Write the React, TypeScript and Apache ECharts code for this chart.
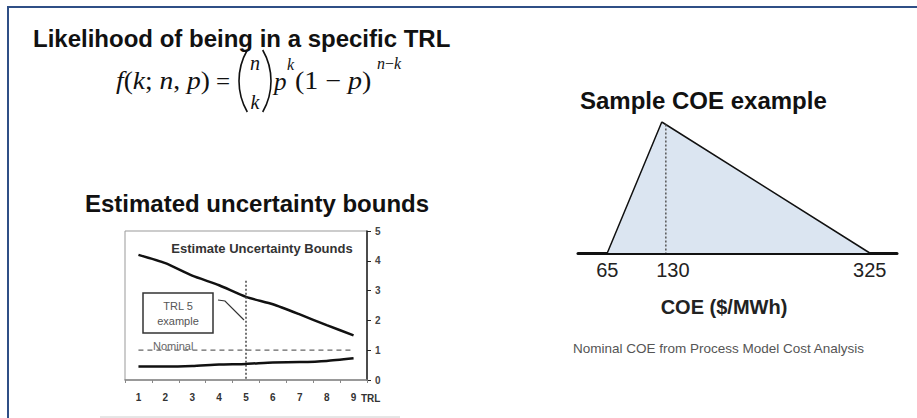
import React, { useEffect, useRef } from "react";
import * as echarts from "echarts";

// ---- Data ----
const trlCategories = ["1", "2", "3", "4", "5", "6", "7", "8", "9"];
const upperBound = [4.2, 3.92, 3.5, 3.18, 2.79, 2.54, 2.2, 1.84, 1.5];
const lowerBound = [0.45, 0.45, 0.47, 0.52, 0.54, 0.59, 0.6, 0.64, 0.73];
const nominalLevel = [1, 1, 1, 1, 1, 1, 1, 1, 1];
const trlMarker = [
  [4, 3.33],
  [4, 0],
];
const coeTriangle = [
  [65, 0],
  [119, 1],
  [325, 0],
];
const coeNominalMarker = [
  [123, 0.98],
  [123, 0],
];
const coeTickValues = [65, 130, 325];

const SANS = "Liberation Sans, Arial, sans-serif";
const SERIF = "Liberation Serif, Times New Roman, serif";

export default function App() {
  const ref = useRef<HTMLDivElement>(null);

  useEffect(() => {
    if (!ref.current) return;
    const chart = echarts.init(ref.current, null, { renderer: "svg" });

    const it = (size: number) => ({ fontFamily: SERIF, fontStyle: "italic", fontSize: size, fill: "#111" });
    const rm = (size: number) => ({ fontFamily: SERIF, fontStyle: "normal", fontSize: size, fill: "#111" });

    const PR = 62;
    const PA = Math.asin(31 / PR);

    const graphic: any[] = [
      // slide border
      { type: "line", shape: { x1: 7, y1: 7, x2: 917, y2: 7 }, style: { stroke: "#2f4f86", lineWidth: 2 }, z: 100 },
      { type: "line", shape: { x1: 8, y1: 7, x2: 8, y2: 418 }, style: { stroke: "#2f4f86", lineWidth: 2 }, z: 100 },
      // titles
      {
        type: "text", x: 33, y: 38, z: 100,
        style: { text: "Likelihood of being in a specific TRL", font: `bold 24px ${SANS}`, fill: "#111", verticalAlign: "middle" },
      },
      {
        type: "text", x: 85, y: 203, z: 100,
        style: { text: "Estimated uncertainty bounds", font: `bold 24px ${SANS}`, fill: "#111", verticalAlign: "middle" },
      },
      {
        type: "text", x: 580, y: 100, z: 100,
        style: { text: "Sample COE example", font: `bold 24px ${SANS}`, fill: "#111", verticalAlign: "middle" },
      },
      // formula
      {
        type: "text", x: 116, y: 81, scaleX: 1.1, z: 100,
        style: {
          text: "{i|f}{r|(}{i|k}{r|; }{i|n}{r|, }{i|p}{r|)}",
          verticalAlign: "middle",
          rich: { i: it(25), r: rm(25) },
        },
      },
      { type: "text", x: 223, y: 81, z: 100, style: { text: "=", ...rm(25), align: "center", verticalAlign: "middle" } },
      {
        type: "arc", z: 100,
        shape: { cx: 239 + PR, cy: 81, r: PR, startAngle: Math.PI - PA, endAngle: Math.PI + PA, clockwise: true },
        style: { stroke: "#111", lineWidth: 1.6, fill: null },
      },
      {
        type: "arc", z: 100,
        shape: { cx: 271 - PR, cy: 81, r: PR, startAngle: -PA, endAngle: PA, clockwise: true },
        style: { stroke: "#111", lineWidth: 1.6, fill: null },
      },
      { type: "text", x: 255, y: 63, z: 100, style: { text: "n", ...it(20), align: "center", verticalAlign: "middle" } },
      { type: "text", x: 255, y: 102, z: 100, style: { text: "k", ...it(20), align: "center", verticalAlign: "middle" } },
      { type: "text", x: 274, y: 81, z: 100, style: { text: "p", ...it(25), verticalAlign: "middle" } },
      { type: "text", x: 287, y: 64, z: 100, style: { text: "k", ...it(16), verticalAlign: "middle" } },
      {
        type: "text", x: 295, y: 81, scaleX: 1.12, z: 100,
        style: {
          text: "{r|(1 − }{i|p}{r|)}",
          verticalAlign: "middle",
          rich: { i: it(25), r: rm(25) },
        },
      },
      {
        type: "text", x: 377, y: 63, z: 100,
        style: { text: "{i|n}{r|−}{i|k}", verticalAlign: "middle", rich: { i: it(16), r: rm(16) } },
      },
      // small chart decorations
      {
        type: "text", x: 262, y: 248, z: 100,
        style: { text: "Estimate Uncertainty Bounds", font: `bold 13px ${SANS}`, fill: "#333", align: "center", verticalAlign: "middle" },
      },
      {
        type: "text", x: 361, y: 398, z: 100,
        style: { text: "TRL", font: `bold 10px ${SANS}`, fill: "#333", verticalAlign: "middle" },
      },
      {
        type: "rect", shape: { x: 143, y: 293, width: 70, height: 40 }, z: 100,
        style: { fill: "#fff", stroke: "#333", lineWidth: 1.5 },
      },
      {
        type: "text", x: 178, y: 306, z: 101,
        style: { text: "TRL 5", font: `11px ${SANS}`, fill: "#555", align: "center", verticalAlign: "middle" },
      },
      {
        type: "text", x: 178, y: 321, z: 101,
        style: { text: "example", font: `11px ${SANS}`, fill: "#555", align: "center", verticalAlign: "middle" },
      },
      {
        type: "polyline", z: 100,
        shape: { points: [[218, 300], [225, 301], [244, 320]] },
        style: { stroke: "#333", lineWidth: 1.2, fill: null },
      },
      {
        type: "text", x: 153, y: 346, z: 100,
        style: { text: "Nominal", font: `11px ${SANS}`, fill: "#666", verticalAlign: "middle" },
      },
      { type: "line", shape: { x1: 100, y1: 417, x2: 400, y2: 417 }, style: { stroke: "#ccc", lineWidth: 1 }, z: 100 },
      // right side texts
      {
        type: "text", x: 724, y: 307, z: 100,
        style: { text: "COE ($/MWh)", font: `bold 20px ${SANS}`, fill: "#222", align: "center", verticalAlign: "middle" },
      },
      {
        type: "text", x: 573, y: 348, z: 100,
        style: { text: "Nominal COE from Process Model Cost Analysis", font: `13.5px ${SANS}`, fill: "#555", verticalAlign: "middle" },
      },
    ];

    chart.setOption({
      animation: false,
      backgroundColor: "#fff",
      grid: [
        { left: 125, top: 231, width: 242, height: 149, show: true, borderColor: "#999", borderWidth: 1, backgroundColor: "#fff" },
        { left: 578, top: 122, width: 319, height: 131, show: false },
      ],
      xAxis: [
        {
          type: "category",
          gridIndex: 0,
          data: trlCategories,
          boundaryGap: true,
          axisLine: { lineStyle: { color: "#888", width: 1.5 } },
          axisTick: { show: true, length: 3, lineStyle: { color: "#888" } },
          axisLabel: { fontSize: 10, fontWeight: "bold", color: "#333", margin: 12, fontFamily: SANS },
          splitLine: { show: false },
        },
        {
          type: "value",
          gridIndex: 1,
          min: 36,
          max: 352,
          axisLine: { show: true, lineStyle: { color: "#111", width: 3 } },
          axisTick: { show: false },
          splitLine: { show: false },
          axisLabel: { customValues: coeTickValues, fontSize: 20, color: "#222", margin: 7, fontFamily: SANS },
        },
      ],
      yAxis: [
        {
          type: "value",
          gridIndex: 0,
          position: "right",
          min: 0,
          max: 5,
          interval: 1,
          axisLine: { show: true, lineStyle: { color: "#222", width: 1.5 } },
          axisTick: { show: true, length: 4, lineStyle: { color: "#222" } },
          axisLabel: { fontSize: 10, fontWeight: "bold", color: "#444", margin: 8, fontFamily: SANS },
          splitLine: { show: false },
        },
        { type: "value", gridIndex: 1, min: 0, max: 1, show: false },
      ],
      series: [
        {
          type: "line", xAxisIndex: 0, yAxisIndex: 0, data: upperBound, symbol: "none", smooth: 0.2,
          lineStyle: { color: "#111", width: 2.5 },
        },
        {
          type: "line", xAxisIndex: 0, yAxisIndex: 0, data: lowerBound, symbol: "none", smooth: 0.2,
          lineStyle: { color: "#111", width: 2.5 },
        },
        {
          type: "line", xAxisIndex: 0, yAxisIndex: 0, data: nominalLevel, symbol: "none",
          lineStyle: { color: "#666", width: 1.2, type: [5, 4] },
        },
        {
          type: "line", xAxisIndex: 0, yAxisIndex: 0, data: trlMarker, symbol: "none",
          lineStyle: { color: "#444", width: 1.5, type: [2, 2] },
        },
        {
          type: "line", xAxisIndex: 1, yAxisIndex: 1, data: coeTriangle, symbol: "none",
          lineStyle: { color: "#111", width: 1.5 },
          areaStyle: { color: "#dbe5f1", opacity: 1 },
        },
        {
          type: "line", xAxisIndex: 1, yAxisIndex: 1, data: coeNominalMarker, symbol: "none",
          lineStyle: { color: "#555", width: 1.5, type: [2, 2] },
        },
      ],
      graphic,
    });

    return () => chart.dispose();
  }, []);

  return (
    <div
      ref={ref}
      style={{ position: "fixed", left: 0, top: 0, width: 917, height: 418, background: "#fff" }}
    />
  );
}
